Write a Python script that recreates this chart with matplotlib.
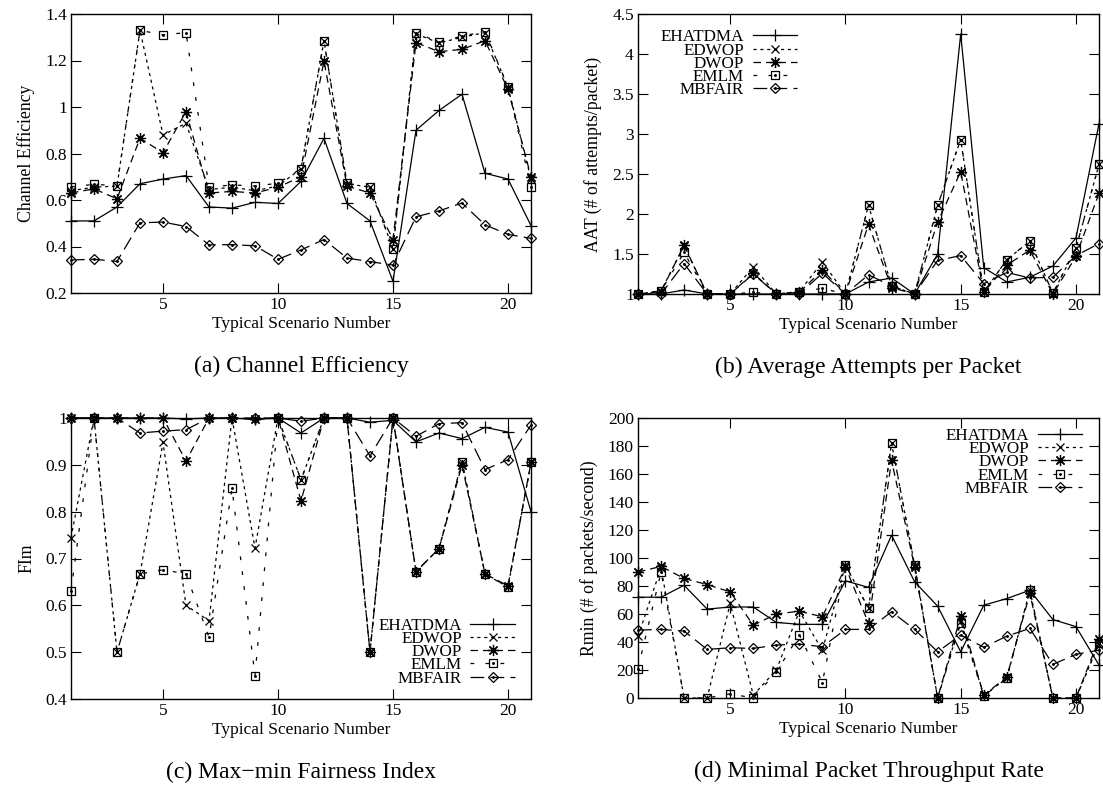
import matplotlib
matplotlib.use("Agg")
import matplotlib.pyplot as plt
from matplotlib.ticker import FuncFormatter

plt.rcParams['font.family'] = ['Liberation Serif', 'DejaVu Serif']

scenarios = list(range(1, 22))
series_names = ["EHATDMA", "EDWOP", "DWOP", "EMLM", "MBFAIR"]

# (a) Channel Efficiency
eff_ehatdma = [0.51, 0.51, 0.57, 0.67, 0.69, 0.705, 0.57, 0.565, 0.59, 0.585, 0.68,
               0.865, 0.585, 0.51, 0.25, 0.90, 0.985, 1.055, 0.715, 0.69, 0.49]
eff_edwop = [0.64, 0.655, 0.66, 1.33, 0.88, 0.93, 0.645, 0.655, 0.64, 0.66, 0.735,
             1.285, 0.67, 0.655, 0.39, 1.315, 1.275, 1.30, 1.32, 1.085, 0.69]
eff_dwop = [0.63, 0.648, 0.605, 0.866, 0.803, 0.98, 0.63, 0.637, 0.63, 0.655, 0.70,
            1.198, 0.66, 0.63, 0.43, 1.277, 1.238, 1.248, 1.285, 1.076, 0.70]
eff_emlm = [0.657, 0.667, 0.662, 1.33, 1.31, 1.32, 0.655, 0.665, 0.66, 0.672, 0.735,
            1.285, 0.672, 0.655, 0.39, 1.32, 1.278, 1.305, 1.324, 1.087, 0.655]
eff_mbfair = [0.342, 0.345, 0.336, 0.502, 0.505, 0.486, 0.407, 0.408, 0.403, 0.345, 0.385,
              0.43, 0.35, 0.335, 0.32, 0.528, 0.553, 0.587, 0.493, 0.452, 0.435]

# (b) Average attempts per packet
aat_ehatdma = [1.0, 1.0, 1.05, 1.0, 1.0, 1.0, 1.0, 1.0, 1.0, 1.0, 1.15,
               1.2, 1.0, 1.5, 4.25, 1.33, 1.15, 1.21, 1.35, 1.70, 3.13]
aat_edwop = [1.0, 1.04, 1.6, 1.0, 1.0, 1.34, 1.0, 1.03, 1.4, 1.0, 2.11,
             1.1, 1.0, 2.11, 2.93, 1.02, 1.43, 1.66, 1.01, 1.57, 2.62]
aat_dwop = [1.0, 1.03, 1.61, 1.0, 1.0, 1.26, 1.0, 1.02, 1.3, 1.0, 1.87,
            1.08, 1.0, 1.9, 2.53, 1.02, 1.36, 1.55, 1.0, 1.47, 2.26]
aat_emlm = [1.0, 1.04, 1.52, 1.0, 1.0, 1.02, 1.0, 1.03, 1.07, 1.0, 2.11,
            1.1, 1.0, 2.11, 2.93, 1.02, 1.43, 1.66, 1.01, 1.57, 2.62]
aat_mbfair = [1.0, 1.0, 1.38, 1.0, 1.0, 1.25, 1.0, 1.0, 1.26, 1.0, 1.24,
              1.1, 1.0, 1.42, 1.48, 1.13, 1.27, 1.2, 1.21, 1.48, 1.63]

# (c) Max-min fairness index
fim_ehatdma = [1.0, 1.0, 1.0, 1.0, 1.0, 0.998, 1.0, 1.0, 0.997, 1.0, 0.968,
               1.0, 1.0, 0.991, 0.995, 0.949, 0.968, 0.956, 0.98, 0.97, 0.80]
fim_edwop = [0.744, 1.0, 0.5, 0.667, 0.948, 0.6, 0.567, 1.0, 0.722, 1.0, 0.868,
             1.0, 1.0, 0.5, 1.0, 0.672, 0.721, 0.907, 0.667, 0.639, 0.905]
fim_dwop = [1.0, 1.0, 1.0, 1.0, 1.0, 0.908, 1.0, 1.0, 0.997, 1.0, 0.823,
            1.0, 1.0, 0.5, 1.0, 0.672, 0.721, 0.90, 0.667, 0.642, 0.905]
fim_emlm = [0.63, 1.0, 0.5, 0.667, 0.676, 0.667, 0.532, 0.85, 0.45, 1.0, 0.868,
            1.0, 1.0, 0.5, 1.0, 0.672, 0.721, 0.907, 0.667, 0.639, 0.905]
fim_mbfair = [1.0, 1.0, 1.0, 0.968, 0.972, 0.975, 1.0, 1.0, 1.0, 1.0, 0.993,
              1.0, 1.0, 0.919, 1.0, 0.961, 0.988, 0.99, 0.89, 0.911, 0.985]

# (d) Minimal packet throughput rate
rmin_ehatdma = [72, 72, 80.5, 63.5, 65, 65, 54, 52.6, 52.6, 83.7, 79,
                116.3, 83, 65.6, 33, 66.3, 71, 77, 56, 51, 23.5]
rmin_edwop = [44, 93, 0, 0, 67.6, 2, 20, 62, 34, 95, 64,
              182, 95, 0, 55, 2, 14, 77, 0, 0, 39]
rmin_dwop = [90, 94, 85.4, 81, 75.8, 52, 60, 62, 58, 93.7, 53.3,
             169.8, 93.7, 0, 58.5, 2, 15, 74.7, 0, 0, 42]
rmin_emlm = [21, 90, 0, 0, 3, 0, 18.5, 45, 11, 95, 64,
             182.4, 95, 0, 53.3, 1.5, 14, 77, 0, 0, 39]
rmin_mbfair = [48.5, 49, 47.8, 34.7, 35.9, 35.4, 37.8, 38.5, 36.6, 49, 49,
               61.6, 49, 33, 45, 36.2, 44.2, 49.7, 24, 31.2, 34.2]

x_ticks = [5, 10, 15, 20]

styles = {
    "EHATDMA": dict(linestyle='-', marker='+', markersize=8, markeredgewidth=0.9),
    "EDWOP": dict(linestyle=(0, (2.5, 3.0)), marker='x', markersize=6, markeredgewidth=0.9),
    "DWOP": dict(linestyle=(0, (6, 4)), marker=(8, 2, 0), markersize=8, markeredgewidth=0.9),
    "EMLM": dict(linestyle=(0, (3, 9)), marker='s', markersize=5.5, markerfacecolor='none',
                 markeredgewidth=0.9),
    "MBFAIR": dict(linestyle=(0, (11, 5)), marker='D', markersize=5, markerfacecolor='none',
                   markeredgewidth=0.9),
}
dotted_centre = {"EMLM", "MBFAIR"}

panels = [
    dict(rect=[71, 14, 531, 293], data=[eff_ehatdma, eff_edwop, eff_dwop, eff_emlm, eff_mbfair],
         ylim=(0.2, 1.4), yticks=[0.2, 0.4, 0.6, 0.8, 1.0, 1.2, 1.4],
         ylabel="Channel Efficiency", caption="(a) Channel Efficiency", legend=None),
    dict(rect=[638, 14, 1099, 294], data=[aat_ehatdma, aat_edwop, aat_dwop, aat_emlm, aat_mbfair],
         ylim=(1.0, 4.5), yticks=[1, 1.5, 2, 2.5, 3, 3.5, 4, 4.5],
         ylabel="AAT (# of attempts/packet)", caption="(b) Average Attempts per Packet",
         legend=(0.345, 0.945)),
    dict(rect=[71, 418, 531, 699], data=[fim_ehatdma, fim_edwop, fim_dwop, fim_emlm, fim_mbfair],
         ylim=(0.4, 1.0), yticks=[0.4, 0.5, 0.6, 0.7, 0.8, 0.9, 1.0],
         ylabel="FIm", caption="(c) Max\u2212min Fairness Index", legend=(0.965, 0.29)),
    dict(rect=[638, 418, 1099, 698], data=[rmin_ehatdma, rmin_edwop, rmin_dwop, rmin_emlm, rmin_mbfair],
         ylim=(0, 200), yticks=list(range(0, 201, 20)),
         ylabel="Rmin (# of packets/second)", caption="(d) Minimal Packet Throughput Rate",
         legend=(0.963, 0.965)),
]

W, H = 1103, 792
fig = plt.figure(figsize=(W / 100, H / 100), dpi=100)

for p in panels:
    l, t, r, b = p["rect"]
    ax = fig.add_axes([l / W, 1 - b / H, (r - l) / W, (b - t) / H])
    handles = []
    for name, ys in zip(series_names, p["data"]):
        st = styles[name]
        line, = ax.plot(scenarios, ys, color='black', linewidth=0.9, clip_on=False,
                        label=name, **st)
        if name in dotted_centre:
            dot, = ax.plot(scenarios, ys, linestyle='none', marker='o', markersize=1.1,
                           color='black', clip_on=False)
            handles.append((line, dot))
        else:
            handles.append(line)
    ax.set_xlim(1, 21)
    ax.set_ylim(*p["ylim"])
    ax.set_xticks(x_ticks)
    ax.set_yticks(p["yticks"])
    ax.yaxis.set_major_formatter(FuncFormatter(lambda v, pos: f"{v:g}"))
    ax.tick_params(direction='in', length=7, width=0.8, top=True, right=True,
                   labelsize=12.5, pad=3)
    for s in ax.spines.values():
        s.set_linewidth(1.0)
    ax.set_xlabel("Typical Scenario Number", fontsize=12.5, labelpad=2)
    ax.set_ylabel(p["ylabel"], fontsize=12.8, labelpad=7)
    fig.text(((l + r) / 2) / W, 1 - (b + 73) / H, p["caption"], ha='center', va='center',
             fontsize=17)
    if p["legend"] is not None:
        ax.legend(handles, series_names, loc='upper right', bbox_to_anchor=p["legend"],
                  frameon=False, markerfirst=False, fontsize=12.3, handlelength=2.6,
                  handletextpad=0.5, labelspacing=-0.16, borderpad=0, borderaxespad=0,
                  numpoints=1)

fig.savefig("out.png", dpi=100)
